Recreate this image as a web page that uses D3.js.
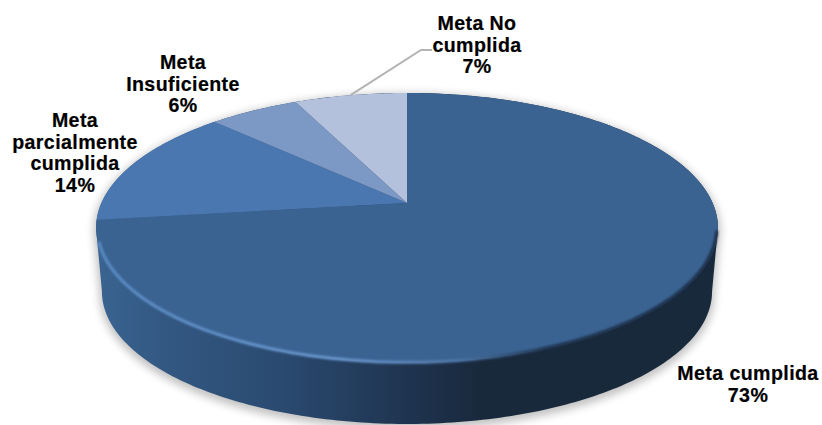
<!DOCTYPE html>
<html>
<head>
<meta charset="utf-8">
<script src="https://cdn.jsdelivr.net/npm/d3@7"></script>
<style>
  html, body { margin: 0; padding: 0; background: #fff; }
  text { font-family: "Liberation Sans", Arial, sans-serif; font-weight: bold; font-size: 19.6px; letter-spacing: 0.4px; fill: #000; stroke: #000; stroke-width: 0.2px; }
</style>
</head>
<body>
<div id="my_dataviz"></div>
<script>
// data
var categories = [["Meta cumplida"], ["Meta", "parcialmente", "cumplida"], ["Meta", "Insuficiente"], ["Meta No", "cumplida"]];
var values = [73.0, 14.4, 5.6, 7.0];
var colors = ["#3b6392", "#4a77b0", "#7c98c4", "#b3c1dc"];

// label centre x and first baseline, by hand
var labelX = [748, 75, 183, 477];
var labelY = [380, 127, 69, 30];
var lineStep = 21.6;

var width = 822, height = 425;

// the pie is tilted, the far side is squeezed: apex is not the ellipse centre
var apexX = 407, apexY = 203;
var radiusX = 305.6, radiusY = 130.4, tilt = 0.185;
var depth = 64, baseScale = 0.981;

function project(t, scale, dy) {
  var u = Math.sin(t), v = Math.cos(t), w = 1 + tilt * v;
  return [apexX + scale * radiusX * u / w, apexY + dy - scale * radiusY * v / w];
}

function rim(a0, a1, scale, dy) {
  var n = Math.max(2, Math.ceil(Math.abs(a1 - a0) * 60));
  return d3.range(n + 1).map(function (i) { return project(a0 + (a1 - a0) * i / n, scale, dy); });
}

var line = d3.line();
var TAU = 2 * Math.PI;
var sideT = Math.PI / 2 + Math.asin(tilt); // where the outline is widest

var svg = d3.select("#my_dataviz").append("svg")
  .attr("width", width)
  .attr("height", height)
  .style("display", "block");

var defs = svg.append("defs");

defs.append("filter").attr("id", "blurShadow")
  .attr("x", "-10%").attr("y", "-10%").attr("width", "120%").attr("height", "120%")
  .append("feGaussianBlur").attr("stdDeviation", 4);
defs.append("filter").attr("id", "blurBevel")
  .attr("x", "-5%").attr("y", "-5%").attr("width", "110%").attr("height", "110%")
  .append("feGaussianBlur").attr("stdDeviation", 1.3);

var sideGrad = defs.append("linearGradient").attr("id", "sideGrad")
  .attr("gradientUnits", "userSpaceOnUse")
  .attr("x1", 96).attr("x2", 718).attr("y1", 0).attr("y2", 0);
[[0, "#3a6491"], [0.12, "#325781"], [0.3, "#2a4a70"], [0.5, "#1f3450"], [0.62, "#19293c"], [1, "#19293c"]].forEach(function (s) {
  sideGrad.append("stop").attr("offset", s[0]).attr("stop-color", s[1]);
});

var bevelGrad = defs.append("linearGradient").attr("id", "bevelGrad")
  .attr("gradientUnits", "userSpaceOnUse")
  .attr("x1", 96).attr("x2", 718).attr("y1", 0).attr("y2", 0);
[[0, "#5a8cc6"], [0.4, "#6a97cd"], [0.58, "#4f76a6"], [0.72, "#1f344e"], [1, "#1a2b40"]].forEach(function (s) {
  bevelGrad.append("stop").attr("offset", s[0]).attr("stop-color", s[1]);
});

// body outline: front half of the base, then round the back of the top
var bodyPath = line(rim(sideT, TAU - sideT, baseScale, depth)
  .concat(rim(TAU - sideT, TAU + sideT, 1, 0))) + "Z";

// shadow
svg.append("path")
  .attr("d", bodyPath)
  .attr("transform", "translate(0,3)")
  .attr("fill", "#000")
  .attr("stroke", "#000")
  .attr("stroke-width", 5)
  .attr("opacity", 0.24)
  .attr("filter", "url(#blurShadow)");

// side wall
svg.append("path")
  .attr("d", bodyPath)
  .attr("fill", "url(#sideGrad)");

// slices
var pie = d3.pie().sort(null)(values);

svg.selectAll("path.slice")
  .data(pie)
  .enter()
  .append("path")
  .attr("class", "slice")
  .attr("d", function (d) {
    return line([[apexX, apexY]].concat(rim(d.startAngle, d.endAngle, 1, 0))) + "Z";
  })
  .attr("fill", function (d, i) { return colors[i]; });

// soft edge along the front of the top face
svg.append("path")
  .attr("d", line(rim(TAU - sideT - 0.1, sideT + 0.02, 0.996, 0)))
  .attr("fill", "none")
  .attr("stroke", "url(#bevelGrad)")
  .attr("stroke-width", 3)
  .attr("filter", "url(#blurBevel)");

// leader for the last slice, starts on the rim at the slice middle
var last = pie[3];
var leaderStart = project((last.startAngle + last.endAngle) / 2, 1, 0);
svg.append("path")
  .attr("d", line([leaderStart, [labelX[3] - 56, labelY[3] + 20], [labelX[3] - 45, labelY[3] + 20]]))
  .attr("fill", "none")
  .attr("stroke", "#b4b4b4")
  .attr("stroke-width", 2);

// labels
var fmt = function (v) { return Math.round(v) + "%"; };
var labels = svg.selectAll("text.label")
  .data(categories)
  .enter()
  .append("text")
  .attr("class", "label")
  .attr("text-anchor", "middle")
  .attr("x", function (d, i) { return labelX[i]; })
  .attr("y", function (d, i) { return labelY[i]; });

labels.each(function (d, i) {
  var el = d3.select(this);
  d.concat([fmt(values[i])]).forEach(function (txt, j) {
    el.append("tspan")
      .attr("x", labelX[i])
      .attr("y", labelY[i] + j * lineStep)
      .text(txt);
  });
});
</script>
</body>
</html>
